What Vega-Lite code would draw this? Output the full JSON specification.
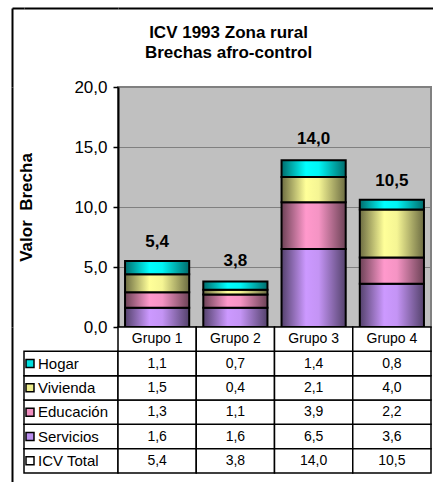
{
  "$schema": "https://vega.github.io/schema/vega-lite/v6.json",
  "padding": {"left": 9, "top": 5, "right": 0, "bottom": 0},
  "background": "white",
  "title": {
    "text": ["ICV 1993 Zona rural", "Brechas afro-control"],
    "font": "Liberation Sans", "fontSize": 17, "fontWeight": "bold", "color": "black",
    "lineHeight": 20, "anchor": "middle", "offset": -57, "dx": 5
  },
  "columns": 3,
  "spacing": 0,
  "bounds": "flush",
  "align": "each",
  "datasets": {
    "tabla": [
      {"grupo": "Grupo 1", "serie": "Servicios", "valor": 1.6, "orden": 1},
      {"grupo": "Grupo 1", "serie": "Educación", "valor": 1.3, "orden": 2},
      {"grupo": "Grupo 1", "serie": "Vivienda", "valor": 1.5, "orden": 3},
      {"grupo": "Grupo 1", "serie": "Hogar", "valor": 1.1, "orden": 4},
      {"grupo": "Grupo 1", "serie": "ICV Total", "valor": 5.4, "orden": 5},
      {"grupo": "Grupo 2", "serie": "Servicios", "valor": 1.6, "orden": 1},
      {"grupo": "Grupo 2", "serie": "Educación", "valor": 1.1, "orden": 2},
      {"grupo": "Grupo 2", "serie": "Vivienda", "valor": 0.4, "orden": 3},
      {"grupo": "Grupo 2", "serie": "Hogar", "valor": 0.7, "orden": 4},
      {"grupo": "Grupo 2", "serie": "ICV Total", "valor": 3.8, "orden": 5},
      {"grupo": "Grupo 3", "serie": "Servicios", "valor": 6.5, "orden": 1},
      {"grupo": "Grupo 3", "serie": "Educación", "valor": 3.9, "orden": 2},
      {"grupo": "Grupo 3", "serie": "Vivienda", "valor": 2.1, "orden": 3},
      {"grupo": "Grupo 3", "serie": "Hogar", "valor": 1.4, "orden": 4},
      {"grupo": "Grupo 3", "serie": "ICV Total", "valor": 14.0, "orden": 5},
      {"grupo": "Grupo 4", "serie": "Servicios", "valor": 3.6, "orden": 1},
      {"grupo": "Grupo 4", "serie": "Educación", "valor": 2.2, "orden": 2},
      {"grupo": "Grupo 4", "serie": "Vivienda", "valor": 4.0, "orden": 3},
      {"grupo": "Grupo 4", "serie": "Hogar", "valor": 0.8, "orden": 4},
      {"grupo": "Grupo 4", "serie": "ICV Total", "valor": 10.5, "orden": 5}
    ],
    "dummy": [{"v": 0}, {"v": 1}]
  },
  "concat": [
    {
      "width": 12, "height": 79,
      "data": {"name": "dummy"},
      "mark": {"type": "point", "opacity": 0},
      "encoding": {
        "x": {"field": "v", "type": "quantitative", "axis": {"orient": "top", "domain": true, "domainColor": "black", "domainWidth": 2, "ticks": false, "labels": false, "grid": false, "title": null}},
        "y": {"field": "v", "type": "quantitative", "axis": {"orient": "left", "domain": true, "domainColor": "black", "domainWidth": 2, "ticks": false, "labels": false, "grid": false, "title": null}}
      }
    },
    {
      "width": 94, "height": 79,
      "data": {"name": "dummy"},
      "mark": {"type": "point", "opacity": 0},
      "encoding": {
        "x": {"field": "v", "type": "quantitative", "axis": {"orient": "top", "domain": true, "domainColor": "black", "domainWidth": 2, "ticks": false, "labels": false, "grid": false, "title": null}}
      }
    },
    {
      "width": 317, "height": 79,
      "data": {"name": "dummy"},
      "mark": {"type": "point", "opacity": 0},
      "encoding": {
        "x": {"field": "v", "type": "quantitative", "axis": {"orient": "top", "domain": true, "domainColor": "black", "domainWidth": 2, "ticks": false, "labels": false, "grid": false, "title": null}}
      }
    },
    {
      "width": 12, "height": 240,
      "data": {"name": "dummy"},
      "mark": {"type": "point", "opacity": 0},
      "encoding": {
        "y": {"field": "v", "type": "quantitative", "axis": {"orient": "left", "domain": true, "domainColor": "black", "domainWidth": 2, "ticks": false, "labels": false, "grid": false, "title": null}}
      }
    },
    {
      "width": 94, "height": 240,
      "data": {"name": "dummy"},
      "mark": {"type": "point", "opacity": 0},
      "encoding": {}
    },
    {
      "width": 313, "height": 240,
      "view": {"fill": "#C0C0C0", "stroke": "#808080", "strokeWidth": 2},
      "data": {"name": "tabla"},
      "encoding": {
        "x": {"field": "grupo", "type": "nominal", "scale": {"paddingInner": 0.18, "paddingOuter": 0.09}, "axis": null}
      },
      "layer": [
        {
          "transform": [
            {"filter": "datum.serie !== 'ICV Total'"},
            {"stack": "valor", "groupby": ["grupo"], "sort": [{"field": "orden", "order": "ascending"}], "as": ["y0", "y1"]}
          ],
          "layer": [
            {
              "transform": [{"filter": "datum.serie === 'Servicios'"}],
              "mark": {"type": "bar", "stroke": "black", "strokeWidth": 2,
                "fill": {"gradient": "linear", "x1": 0, "x2": 1, "y1": 0, "y2": 0, "stops": [
                  {"offset": 0, "color": "#54426C"}, {"offset": 0.38, "color": "#CC99FF"}, {"offset": 0.58, "color": "#C494F5"}, {"offset": 1, "color": "#54426C"}]}}
            },
            {
              "transform": [{"filter": "datum.serie === 'Educación'"}],
              "mark": {"type": "bar", "stroke": "black", "strokeWidth": 2,
                "fill": {"gradient": "linear", "x1": 0, "x2": 1, "y1": 0, "y2": 0, "stops": [
                  {"offset": 0, "color": "#6C4256"}, {"offset": 0.38, "color": "#FF99CC"}, {"offset": 0.58, "color": "#F594C4"}, {"offset": 1, "color": "#6C4256"}]}}
            },
            {
              "transform": [{"filter": "datum.serie === 'Vivienda'"}],
              "mark": {"type": "bar", "stroke": "black", "strokeWidth": 2,
                "fill": {"gradient": "linear", "x1": 0, "x2": 1, "y1": 0, "y2": 0, "stops": [
                  {"offset": 0, "color": "#6C6C42"}, {"offset": 0.38, "color": "#FFFF99"}, {"offset": 0.58, "color": "#F5F594"}, {"offset": 1, "color": "#6C6C42"}]}}
            },
            {
              "transform": [{"filter": "datum.serie === 'Hogar'"}],
              "mark": {"type": "bar", "stroke": "black", "strokeWidth": 2,
                "fill": {"gradient": "linear", "x1": 0, "x2": 1, "y1": 0, "y2": 0, "stops": [
                  {"offset": 0, "color": "#006C6C"}, {"offset": 0.38, "color": "#00FFFF"}, {"offset": 0.58, "color": "#00F5F5"}, {"offset": 1, "color": "#006C6C"}]}}
            }
          ],
          "encoding": {
            "y": {"field": "y1", "type": "quantitative", "scale": {"domain": [0, 20], "nice": false},
              "axis": {"title": "Valor\u00a0 Brecha", "titleFont": "Liberation Sans", "titleFontSize": 17, "titleFontWeight": "bold", "titleColor": "black", "titlePadding": 38,
                "values": [0, 5, 10, 15, 20], "format": ".1f", "labelFont": "Liberation Sans", "labelFontSize": 17, "labelColor": "black", "labelPadding": 6,
                "tickSize": 5, "tickColor": "black", "tickWidth": 1.5, "domainColor": "black", "domainWidth": 2,
                "grid": true, "gridColor": "#808080", "gridWidth": 1}},
            "y2": {"field": "y0"}
          }
        },
        {
          "transform": [{"filter": "datum.serie === 'ICV Total'"}],
          "mark": {"type": "text", "font": "Liberation Sans", "fontSize": 17, "fontWeight": "bold", "color": "black", "baseline": "middle", "dy": -20},
          "encoding": {
            "y": {"field": "valor", "type": "quantitative",
              "axis": {"title": "Valor\u00a0 Brecha", "titleFont": "Liberation Sans", "titleFontSize": 17, "titleFontWeight": "bold", "titleColor": "black", "titlePadding": 38,
                "values": [0, 5, 10, 15, 20], "format": ".1f", "labelFont": "Liberation Sans", "labelFontSize": 17, "labelColor": "black", "labelPadding": 6,
                "tickSize": 5, "tickColor": "black", "tickWidth": 1.5, "domainColor": "black", "domainWidth": 2,
                "grid": true, "gridColor": "#808080", "gridWidth": 1}},
            "text": {"field": "valor", "type": "quantitative", "format": ".1f"}
          }
        }
      ]
    },
    {
      "width": 12, "height": 156,
      "data": {"name": "dummy"},
      "mark": {"type": "point", "opacity": 0},
      "encoding": {
        "y": {"field": "v", "type": "quantitative", "axis": {"orient": "left", "domain": true, "domainColor": "black", "domainWidth": 2, "ticks": false, "labels": false, "grid": false, "title": null}}
      }
    },
    {
      "width": 94, "height": 146,
      "data": {"name": "tabla"},
      "transform": [{"filter": "datum.grupo === 'Grupo 1'"}],
      "encoding": {
        "y": {"field": "serie", "type": "nominal", "scale": {"domain": ["Grupo", "Hogar", "Vivienda", "Educación", "Servicios", "ICV Total"], "paddingInner": 0, "paddingOuter": 0}, "axis": null}
      },
      "layer": [
        {"mark": {"type": "rect", "fill": "white", "stroke": "black", "strokeWidth": 1.5}},
        {
          "mark": {"type": "point", "shape": "square", "filled": true, "size": 64, "stroke": "black", "strokeWidth": 1.5, "xOffset": -41, "opacity": 1},
          "encoding": {
            "fill": {"field": "serie", "type": "nominal", "scale": {"domain": ["Hogar", "Vivienda", "Educación", "Servicios", "ICV Total"], "range": ["#00E0E0", "#EEEE8E", "#F08EC0", "#B98EEE", "#FFFFFF"]}, "legend": null}
          }
        },
        {
          "mark": {"type": "text", "align": "left", "baseline": "middle", "dx": -33, "font": "Liberation Sans", "fontSize": 15, "color": "black"},
          "encoding": {"text": {"field": "serie"}}
        }
      ]
    },
    {
      "width": 313, "height": 146,
      "data": {"name": "tabla"},
      "encoding": {
        "x": {"field": "grupo", "type": "nominal", "scale": {"paddingInner": 0, "paddingOuter": 0}, "axis": null}
      },
      "layer": [
        {
          "mark": {"type": "rect", "fill": "white", "stroke": "black", "strokeWidth": 1.5},
          "encoding": {"y": {"field": "serie", "type": "nominal", "scale": {"domain": ["Grupo", "Hogar", "Vivienda", "Educación", "Servicios", "ICV Total"], "paddingInner": 0, "paddingOuter": 0}, "axis": null}}
        },
        {
          "transform": [{"filter": "datum.serie === 'ICV Total'"}],
          "mark": {"type": "rect", "fill": "white", "stroke": "black", "strokeWidth": 1.5},
          "encoding": {"y": {"datum": "Grupo", "type": "nominal", "axis": null}}
        },
        {
          "transform": [{"filter": "datum.serie === 'ICV Total'"}],
          "mark": {"type": "text", "baseline": "middle", "font": "Liberation Sans", "fontSize": 14, "color": "black"},
          "encoding": {"y": {"datum": "Grupo", "type": "nominal", "axis": null}, "text": {"field": "grupo"}}
        },
        {
          "mark": {"type": "text", "baseline": "middle", "font": "Liberation Sans", "fontSize": 14, "color": "black"},
          "encoding": {
            "y": {"field": "serie", "type": "nominal", "axis": null},
            "text": {"field": "valor", "type": "quantitative", "format": ".1f"}
          }
        }
      ]
    }
  ],
  "config": {
    "view": {"stroke": null},
    "font": "Liberation Sans",
    "locale": {"number": {"decimal": ",", "thousands": ".", "grouping": [3], "currency": ["", ""]}}
  }
}
